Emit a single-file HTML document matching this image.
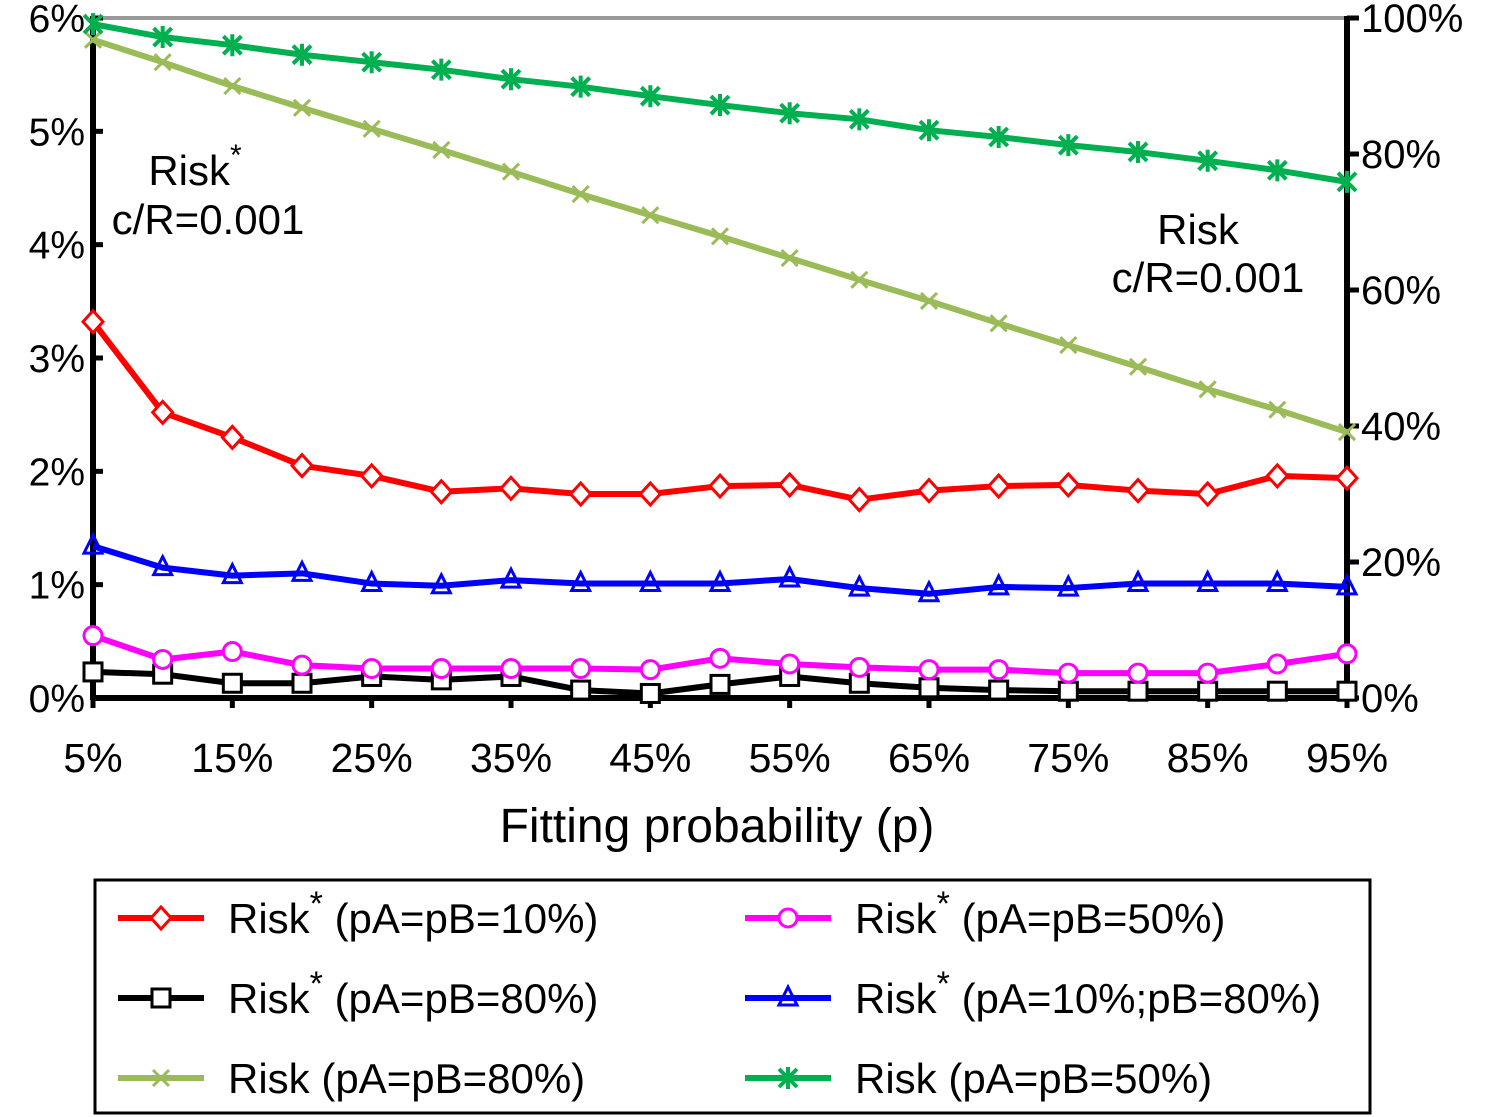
<!DOCTYPE html>
<html><head><meta charset="utf-8"><style>
body{margin:0;background:#fff;}
svg{display:block;font-family:"Liberation Sans",Arial,sans-serif;}
</style></head><body>
<svg id="chart" width="1487" height="1117" viewBox="0 0 1487 1117">
<g id="axes"></g><g id="series"></g>
<text x="195" y="185" font-size="42" text-anchor="middle">Risk<tspan dy="-20" font-size="30">*</tspan></text>
<text x="208" y="234" font-size="42" text-anchor="middle">c/R=0.001</text>
<text x="1198" y="244" font-size="42" text-anchor="middle">Risk</text>
<text x="1208" y="292" font-size="42" text-anchor="middle">c/R=0.001</text>
<text x="717" y="842" font-size="48" text-anchor="middle">Fitting probability (p)</text>
<g id="legend"></g>
</svg>
<script>
const xCats=[5,10,15,20,25,30,35,40,45,50,55,60,65,70,75,80,85,90,95];
const xTicks=[5,15,25,35,45,55,65,75,85,95];
const leftTicks=[0,1,2,3,4,5,6];
const rightTicks=[0,20,40,60,80,100];
const red=[3.32,2.52,2.30,2.05,1.96,1.82,1.85,1.80,1.80,1.87,1.88,1.75,1.83,1.87,1.88,1.83,1.80,1.96,1.94];
const blue=[1.34,1.15,1.08,1.10,1.01,0.99,1.04,1.01,1.01,1.01,1.05,0.97,0.92,0.98,0.97,1.01,1.01,1.01,0.98];
const magenta=[0.55,0.34,0.41,0.29,0.26,0.26,0.26,0.26,0.25,0.35,0.30,0.27,0.25,0.25,0.22,0.22,0.22,0.30,0.39];
const black=[0.23,0.21,0.13,0.13,0.19,0.16,0.19,0.07,0.04,0.12,0.19,0.13,0.09,0.07,0.06,0.06,0.06,0.06,0.06];
const olive=[96.8,93.5,90,86.8,83.7,80.6,77.4,74.1,71,67.9,64.7,61.5,58.4,55.1,51.9,48.7,45.4,42.4,39.1];
const green=[99.1,97.2,96,94.6,93.5,92.4,91,89.9,88.5,87.2,86,85.1,83.5,82.5,81.3,80.3,79,77.6,75.9];

const NS='http://www.w3.org/2000/svg';
const X0=93,X1=1347,Y0=698,Y1=18;
const xs=v=>X0+(v-5)/90*(X1-X0);
const yl=v=>Y0-v/6*(Y0-Y1);
const yr=v=>Y0-v/100*(Y0-Y1);
function mk(tag,attrs,parent){const e=document.createElementNS(NS,tag);for(const k in attrs)e.setAttribute(k,attrs[k]);parent.appendChild(e);return e;}
const axes=document.getElementById('axes'),series=document.getElementById('series'),legend=document.getElementById('legend');

let e=mk('line',{x1:X0,y1:Y1,x2:X1,y2:Y1,stroke:'#999',"stroke-width":4},axes);


e=mk('line',{x1:X0,y1:Y1-2,x2:X0,y2:Y0+2,stroke:'#000',"stroke-width":6},axes);


e=mk('line',{x1:X1,y1:Y1-2,x2:X1,y2:Y0+2,stroke:'#000',"stroke-width":6},axes);


e=mk('line',{x1:X0,y1:Y0,x2:X1,y2:Y0,stroke:'#000',"stroke-width":6},axes);


leftTicks.forEach(t=>{const y=yl(t);
 mk('line',{x1:X0,y1:y,x2:X0+10,y2:y,stroke:'#000',"stroke-width":5},axes);
 const tx=mk('text',{x:X0-8,y:y+14,"font-size":39,"text-anchor":"end"},axes);tx.textContent=t+'%';
 
 });
rightTicks.forEach(t=>{const y=yr(t);
 mk('line',{x1:X1,y1:y,x2:X1+12,y2:y,stroke:'#000',"stroke-width":5},axes);
 const tx=mk('text',{x:X1+14,y:y+14,"font-size":40,"text-anchor":"start"},axes);tx.textContent=t+'%';
 
 });
xTicks.forEach(t=>{const x=xs(t);
 mk('line',{x1:x,y1:Y0,x2:x,y2:Y0+10,stroke:'#000',"stroke-width":5},axes);
 const tx=mk('text',{x:x,y:Y0+74,"font-size":41,"text-anchor":"middle"},axes);tx.textContent=t+'%';
 
 });

function marker(type,x,y,color,parent){
 const s={fill:type==='tri'?'none':'#fff',stroke:color,"stroke-width":3};
 if(type==='diamond')return mk('polygon',Object.assign({points:`${x},${y-11} ${x+10},${y} ${x},${y+11} ${x-10},${y}`},s),parent);
 if(type==='square')return mk('rect',Object.assign({x:x-9,y:y-9,width:18,height:18},s),parent);
 if(type==='circle')return mk('circle',Object.assign({cx:x,cy:y,r:9},s),parent);
 if(type==='tri')return mk('polygon',Object.assign({points:`${x},${y-11} ${x+9},${y+7} ${x-9},${y+7}`},s),parent);
 if(type==='x')return mk('path',Object.assign({d:`M${x-8},${y-8}L${x+8},${y+8}M${x+8},${y-8}L${x-8},${y+8}`},s),parent);
 if(type==='star')return mk('path',Object.assign({d:`M${x-9},${y-9}L${x+9},${y+9}M${x+9},${y-9}L${x-9},${y+9}M${x},${y-11}L${x},${y+11}`},s,{"stroke-width":4}),parent);
}
const defs=[
 {name:'risk-star-80-80',data:black,col:'#000',m:'square',ax:yl},
 {name:'risk-star-50-50',data:magenta,col:'#f0f',m:'circle',ax:yl},
 {name:'risk-star-10-80',data:blue,col:'#00f',m:'tri',ax:yl},
 {name:'risk-star-10',data:red,col:'#f00',m:'diamond',ax:yl},
 {name:'risk-80-80',data:olive,col:'#9bbb59',m:'x',ax:yr},
 {name:'risk-50-50',data:green,col:'#00b050',m:'star',ax:yr}];
defs.forEach(d=>{
 const g=mk('g',{},series);
 
 
 const pts=d.data.map((v,i)=>xs(xCats[i])+','+d.ax(v)).join(' ');
 mk('polyline',{points:pts,fill:'none',stroke:d.col,"stroke-width":6,"stroke-linejoin":"round"},g);
 d.data.forEach((v,i)=>{const m=marker(d.m,xs(xCats[i]),d.ax(v),d.col,g);
  
  });
});

e=mk('rect',{x:95,y:880,width:1275,height:233,fill:'#fff',stroke:'#000',"stroke-width":3},legend);


const legItems=[
 {x:118,y:918,col:'#f00',m:'diamond',star:true,lab:'(pA=pB=10%)'},
 {x:745,y:918,col:'#f0f',m:'circle',star:true,lab:'(pA=pB=50%)'},
 {x:118,y:998,col:'#000',m:'square',star:true,lab:'(pA=pB=80%)'},
 {x:745,y:998,col:'#00f',m:'tri',star:true,lab:'(pA=10%;pB=80%)'},
 {x:118,y:1078,col:'#9bbb59',m:'x',star:false,lab:'(pA=pB=80%)'},
 {x:745,y:1078,col:'#00b050',m:'star',star:false,lab:'(pA=pB=50%)'}];
legItems.forEach(it=>{
 const g=mk('g',{},legend);
 
 
 mk('line',{x1:it.x,y1:it.y,x2:it.x+86,y2:it.y,stroke:it.col,"stroke-width":6},g);
 marker(it.m,it.x+43,it.y,it.col,g);
 const t=mk('text',{x:it.x+110,y:it.y+15,"font-size":42},g);
 t.innerHTML='Risk'+(it.star?'<tspan dy="-18" font-size="34">*</tspan><tspan dy="18"> '+it.lab+'</tspan>':' '+it.lab);
});
</script>
</body></html>
